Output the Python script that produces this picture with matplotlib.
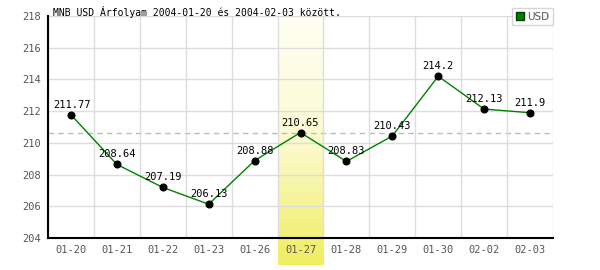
import matplotlib
matplotlib.use("Agg")
import matplotlib.pyplot as plt
import numpy as np
from matplotlib.colors import LinearSegmentedColormap
from matplotlib.lines import Line2D

categories = ["01-20", "01-21", "01-22", "01-23", "01-26", "01-27",
              "01-28", "01-29", "01-30", "02-02", "02-03"]
values = [211.77, 208.64, 207.19, 206.13, 208.88, 210.65,
          208.83, 210.43, 214.2, 212.13, 211.9]
highlight_index = 5
yticks = [204, 206, 208, 210, 212, 214, 216, 218]
title = "MNB USD Árfolyam 2004-01-20 és 2004-02-03 között."
series_name = "USD"

mono = "DejaVu Sans Mono"
fig = plt.figure(figsize=(6, 2.7), dpi=100)
ax = fig.add_axes([48/600, 32/270, 505/600, 222/270])

x = np.arange(len(categories))
ymin, ymax = 204, 218
ax.set_xlim(-0.5, len(categories) - 0.5)
ax.set_ylim(ymin, ymax)

# highlight gradient column extending below the axis
cmap = LinearSegmentedColormap.from_list("hl", ["#fffff4", "#fbfad0", "#f0ee60"])
grad = np.linspace(0, 1, 256).reshape(-1, 1)
ybot = ymin - (265 - 238) / (222 / 14)
hx = x[highlight_index]
ax.imshow(grad, cmap=cmap, aspect="auto", origin="upper",
          extent=(hx - 0.5, hx + 0.5, ybot, ymax), clip_on=False, zorder=0)
ax.set_xlim(-0.5, len(categories) - 0.5)
ax.set_ylim(ymin, ymax)

# grid
ax.set_yticks(yticks)
ax.set_xticks(x)
ax.set_xticks(np.arange(-0.5, len(categories), 1), minor=True)
ax.grid(True, which="minor", axis="x", color="#dddddd", lw=1, zorder=0.5)
ax.grid(True, which="major", axis="y", color="#dddddd", lw=1, zorder=0.5)
ax.grid(False, which="major", axis="x")
for s in ["top", "right"]:
    ax.spines[s].set_visible(False)
for s in ["left", "bottom"]:
    ax.spines[s].set_linewidth(1.5)
    ax.spines[s].set_zorder(3)

ax.set_xticklabels(categories)
ax.tick_params(axis="both", which="both", length=0, labelsize=7.5,
               labelcolor="#555555")
ax.tick_params(axis="y", pad=5)
ax.tick_params(axis="x", pad=5)
for lab in ax.get_xticklabels() + ax.get_yticklabels():
    lab.set_family(mono)

# reference dashed line at highlighted value
ax.axhline(values[highlight_index], color="#b0c4b0", lw=1,
           ls=(0, (4, 3)), zorder=1)

# series
ax.plot(x, values, color="#008000", lw=1, zorder=2)
ax.plot(x, values, "o", color="black", ms=4.8, zorder=4)

for i, v in enumerate(values):
    if i == 0:
        ax.annotate(f"{v:g}", (x[i], v), xytext=(-13, 5),
                    textcoords="offset points", ha="left", va="baseline",
                    fontsize=7.5, family=mono, color="black", zorder=5)
    else:
        ax.annotate(f"{v:g}", (x[i], v), xytext=(0, 5),
                    textcoords="offset points", ha="center", va="baseline",
                    fontsize=7.5, family=mono, color="black", zorder=5)

fig.text(53/600, 1 - 16/270, title, fontsize=7, family=mono,
         color="black", ha="left", va="baseline")

handle = Line2D([], [], marker="s", ls="none", markersize=6,
                markerfacecolor="#008000", markeredgecolor="#004000")
leg = fig.legend([handle], [series_name], loc="upper right",
                 bbox_to_anchor=(553/600, 1 - 8/270), frameon=True,
                 fancybox=False, edgecolor="#cccccc", fontsize=7.5,
                 handlelength=0.8, handletextpad=0.3, borderpad=0.35,
                 borderaxespad=0)
leg.get_frame().set_linewidth(1)
for t in leg.get_texts():
    t.set_color("#555555")

fig.savefig("out.png", dpi=100)
